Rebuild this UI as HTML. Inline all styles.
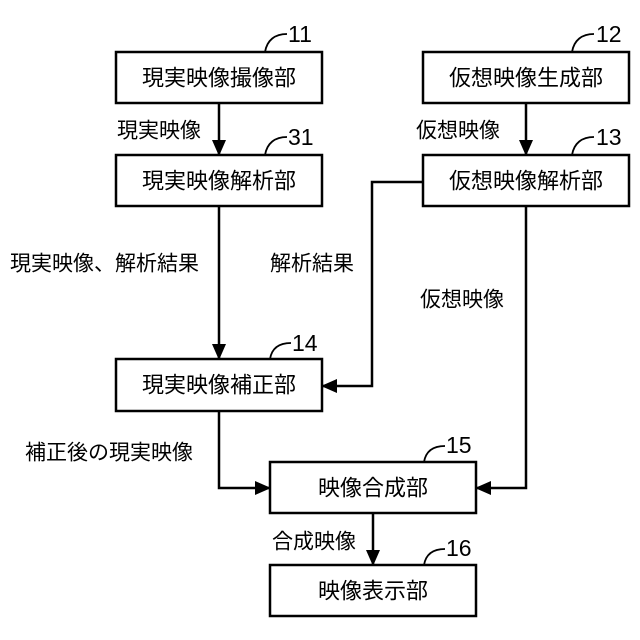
<!DOCTYPE html>
<html><head><meta charset="utf-8"><style>
html,body{margin:0;padding:0;background:#fff;}
svg{display:block;}
text{font-family:"Liberation Sans","Noto Sans CJK JP",sans-serif;fill:#000;}
.b{font-size:22px;text-anchor:middle;dominant-baseline:central;}
.l{font-size:21px;dominant-baseline:central;}
.n{font-size:23px;dominant-baseline:central;}
</style></head><body>
<svg width="640" height="640" viewBox="0 0 640 640" xmlns="http://www.w3.org/2000/svg">
<defs><marker id="a" markerWidth="10" markerHeight="10" refX="9" refY="5" orient="auto" markerUnits="userSpaceOnUse"><path d="M0,0 L10,5 L0,10 Z" fill="#000"/></marker>
<marker id="ah" markerWidth="16" markerHeight="14" refX="15" refY="7" orient="auto" markerUnits="userSpaceOnUse"><path d="M0,0 L16,7 L0,14 Z" fill="#000"/></marker></defs>
<g fill="#fff" stroke="#000" stroke-width="2.5">
<rect x="116" y="52" width="206" height="51"/>
<rect x="423" y="52" width="206" height="51"/>
<rect x="116" y="155" width="206" height="51"/>
<rect x="423" y="155" width="206" height="51"/>
<rect x="116" y="359" width="206" height="52"/>
<rect x="270" y="462" width="206" height="51"/>
<rect x="270" y="565" width="206" height="51"/>
</g>
<g fill="none" stroke="#000" stroke-width="2.5" marker-end="url(#ah)">
<path d="M219,103 V155"/>
<path d="M526,103 V155"/>
<path d="M219,206 V359"/>
<path d="M423,182 H372 V386 H322"/>
<path d="M526,206 V488 H476"/>
<path d="M219,411 V488 H270"/>
<path d="M373,513 V565"/>
</g>
<g fill="none" stroke="#000" stroke-width="1.8">
<path d="M265,52 C267,40 275,34 287,34"/>
<path d="M572,52 C574,40 582,34 594,34"/>
<path d="M265,155 C267,143 275,137 287,137"/>
<path d="M572,155 C574,143 582,137 594,137"/>
<path d="M270,359 C272,347 280,343 291,343"/>
<path d="M424,462 C426,450 434,446 445,446"/>
<path d="M424,565 C426,553 434,549 445,549"/>
</g>
<text class="b" x="219" y="78">現実映像撮像部</text>
<text class="b" x="526" y="78">仮想映像生成部</text>
<text class="b" x="219" y="181">現実映像解析部</text>
<text class="b" x="526" y="181">仮想映像解析部</text>
<text class="b" x="219" y="385">現実映像補正部</text>
<text class="b" x="373" y="488">映像合成部</text>
<text class="b" x="373" y="591">映像表示部</text>
<text class="l" x="117" y="131">現実映像</text>
<text class="l" x="416" y="131">仮想映像</text>
<text class="l" x="10" y="264">現実映像、解析結果</text>
<text class="l" x="270" y="264">解析結果</text>
<text class="l" x="420" y="300">仮想映像</text>
<text class="l" x="25" y="453">補正後の現実映像</text>
<text class="l" x="272" y="542">合成映像</text>
<text class="n" x="288" y="34">11</text>
<text class="n" x="596" y="34">12</text>
<text class="n" x="288" y="137">31</text>
<text class="n" x="596" y="137">13</text>
<text class="n" x="292" y="343">14</text>
<text class="n" x="446" y="445">15</text>
<text class="n" x="446" y="548">16</text>
</svg>
</body></html>
